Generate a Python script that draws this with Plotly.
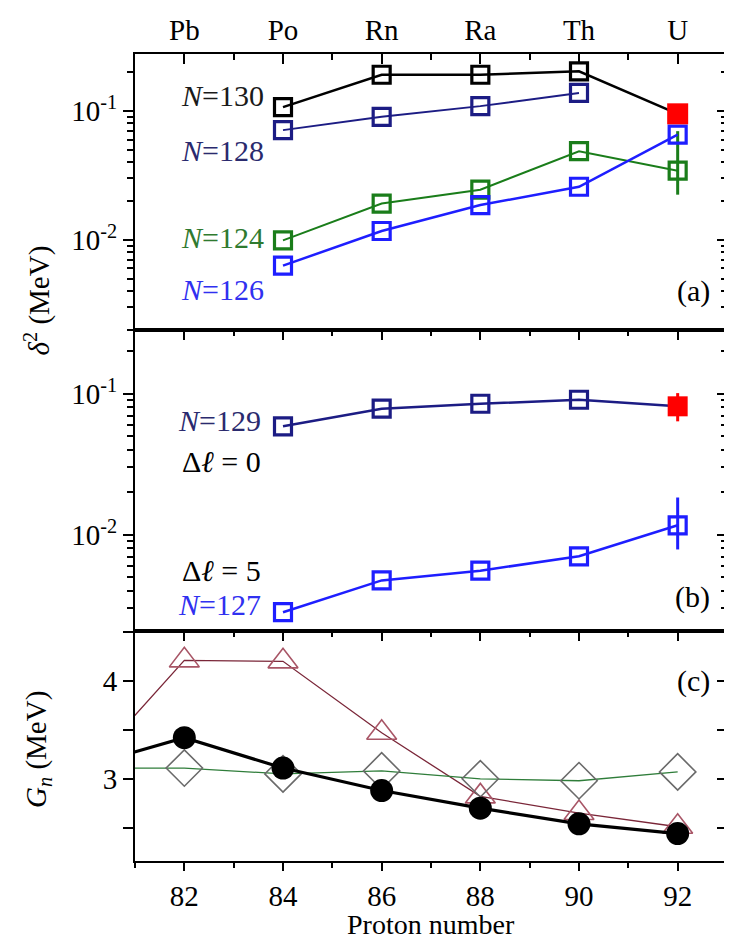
import math
import plotly.graph_objects as go

# ---------------- data ----------------
Z_ab = [84, 86, 88, 90, 92]
elements = ["Pb", "Po", "Rn", "Ra", "Th", "U"]
Z_elem = [82, 84, 86, 88, 90, 92]
log_ticks = [0.01, 0.1]
log_ticktext = ["10<sup>-2</sup>", "10<sup>-1</sup>"]
Gn_ticks = [3, 4]

# panel (a)
d2_N130 = [0.107, 0.191, 0.191, 0.203, 0.095]   # last point = experiment (red)
d2_N128 = [0.071, 0.090, 0.109, 0.138]
d2_N124 = [0.0099, 0.0191, 0.0245, 0.0487, 0.0344]
d2_N124_errp = [0, 0, 0, 0, 0.0353]
d2_N124_errm = [0, 0, 0, 0, 0.0120]
d2_N126 = [0.0063, 0.0117, 0.0186, 0.0258, 0.0655]

# panel (b)
d2_N129 = [0.0587, 0.0783, 0.0849, 0.0906, 0.0814]  # last point = experiment (red)
d2_N129_errp = [0.0196]
d2_N129_errm = [0.0177]
d2_N127 = [0.00282, 0.00474, 0.00556, 0.00703, 0.01166]
d2_N127_errp = [0, 0, 0, 0, 0.0067]
d2_N127_errm = [0, 0, 0, 0, 0.0038]

# panel (c)
Z_c = [80, 82, 84, 86, 88, 90, 92]
Gn_circle = [3.13, 3.42, 3.11, 2.88, 2.70, 2.54, 2.44]
Gn_triangle = [3.09, 4.21, 4.20, 3.47, 2.82, 2.65, 2.51]
Gn_diamond = [3.11, 3.11, 3.05, 3.08, 3.00, 2.98, 3.07]

# ---------------- style ----------------
FONT = "Liberation Serif, Times New Roman, serif"
FS = 29
BLACK = "#000000"
NAVY = "#1c1c84"
GREEN = "#1a7d1a"
BLUE = "#1e1eff"
RED = "#ff0000"

fig = go.Figure()

def sq_trace(x, y, color, xa, ya, width=2.5, err=None):
    tr = go.Scatter(
        x=x, y=y, mode="lines+markers", xaxis=xa, yaxis=ya,
        line=dict(color=color, width=width),
        marker=dict(symbol="square-open", size=17, color=color,
                    line=dict(width=3.2, color=color)),
        showlegend=False, hoverinfo="skip")
    if err is not None:
        tr.error_y = dict(type="data", array=err[0], arrayminus=err[1],
                          color=color, thickness=3, width=0, visible=True)
    return tr

# panel (a): xaxis3 / yaxis3
fig.add_trace(go.Scatter(x=Z_ab, y=d2_N130, mode="lines", xaxis="x3", yaxis="y3",
                         line=dict(color=BLACK, width=2.5), showlegend=False, hoverinfo="skip"))
fig.add_trace(go.Scatter(x=Z_ab[:4], y=d2_N130[:4], mode="markers", xaxis="x3", yaxis="y3",
                         marker=dict(symbol="square-open", size=17, color=BLACK, line=dict(width=3.2, color=BLACK)),
                         showlegend=False, hoverinfo="skip"))
fig.add_trace(sq_trace(Z_ab[:4], d2_N128, NAVY, "x3", "y3", width=2))
fig.add_trace(sq_trace(Z_ab, d2_N124, GREEN, "x3", "y3", width=2,
                       err=(d2_N124_errp, d2_N124_errm)))
fig.add_trace(sq_trace(Z_ab, d2_N126, BLUE, "x3", "y3", width=2.5))
fig.add_trace(go.Scatter(x=Z_ab[4:], y=d2_N130[4:], mode="markers", xaxis="x3", yaxis="y3",
                         marker=dict(symbol="square", size=21, color=RED, line=dict(width=0)),
                         showlegend=False, hoverinfo="skip"))

# panel (b): xaxis2 / yaxis2
fig.add_trace(go.Scatter(x=Z_ab, y=d2_N129, mode="lines", xaxis="x2", yaxis="y2",
                         line=dict(color=NAVY, width=2.5), showlegend=False, hoverinfo="skip"))
fig.add_trace(go.Scatter(x=Z_ab[:4], y=d2_N129[:4], mode="markers", xaxis="x2", yaxis="y2",
                         marker=dict(symbol="square-open", size=17, color=NAVY, line=dict(width=3.2, color=NAVY)),
                         showlegend=False, hoverinfo="skip"))
fig.add_trace(go.Scatter(x=Z_ab[4:], y=d2_N129[4:], mode="markers", xaxis="x2", yaxis="y2",
                         marker=dict(symbol="square", size=20, color=RED, line=dict(width=0)),
                         error_y=dict(type="data", array=d2_N129_errp, arrayminus=d2_N129_errm,
                                      color=RED, thickness=3, width=0),
                         showlegend=False, hoverinfo="skip"))
fig.add_trace(sq_trace(Z_ab, d2_N127, BLUE, "x2", "y2", width=2.5,
                       err=(d2_N127_errp, d2_N127_errm)))

# panel (c): xaxis / yaxis
fig.add_trace(go.Scatter(x=Z_c, y=Gn_triangle, mode="lines+markers",
                         line=dict(color="#7a2638", width=1.3),
                         marker=dict(symbol="triangle-up-open", size=26, color="#a85566",
                                     line=dict(width=1.6, color="#a85566")),
                         showlegend=False, hoverinfo="skip"))
fig.add_trace(go.Scatter(x=Z_c, y=Gn_diamond, mode="lines+markers",
                         line=dict(color="#2f7d3a", width=1.3),
                         marker=dict(symbol="diamond-open", size=28, color="#6a6a6a",
                                     line=dict(width=1.6, color="#6a6a6a")),
                         showlegend=False, hoverinfo="skip"))
fig.add_trace(go.Scatter(x=Z_c, y=Gn_circle, mode="lines+markers",
                         line=dict(color=BLACK, width=3.2),
                         marker=dict(symbol="circle", size=23, color=BLACK),
                         showlegend=False, hoverinfo="skip"))

# dummy traces for overlay axes (extra tick sets)
for xa, ya in [("x4", "y"), ("x", "y4"), ("x2", "y5"), ("x3", "y6")]:
    fig.add_trace(go.Scatter(x=[None], y=[None], xaxis=xa, yaxis=ya, mode="markers",
                             showlegend=False, hoverinfo="skip"))

XR = [81, 93]
dom_c = [0, 0.285]
dom_b = [0.285, 0.658]
dom_a = [0.658, 1.0]
tickfont = dict(family=FONT, size=FS, color=BLACK)

def xminor(side, ln=6):
    return dict(dtick=1, ticklen=ln, tickwidth=2, tickcolor=BLACK, ticks=side)

def xaxis_common(**kw):
    d = dict(range=XR, showline=True, linecolor=BLACK, linewidth=2,
             tickvals=Z_elem, ticklen=10, tickwidth=2, tickcolor=BLACK, automargin=False,
             showgrid=False, zeroline=False, tickfont=tickfont)
    d.update(kw)
    return d

minor_log = [m * 10 ** e for e in (-3, -2, -1) for m in (2, 3, 4, 5, 6, 7, 8, 9)]

def logy(rng, dom, side_ticks="outside", **kw):
    d = dict(type="log", range=rng, domain=dom, showline=True, linecolor=BLACK, linewidth=2,
             tickvals=log_ticks, ticktext=log_ticktext, ticklen=10, tickwidth=2, tickcolor=BLACK,
             minor=dict(tickvals=minor_log, ticklen=6, tickwidth=2, tickcolor=BLACK, ticks=side_ticks),
             ticks=side_ticks, mirror="allticks", showgrid=False, zeroline=False, tickfont=tickfont,
             automargin=False)
    d.update(kw)
    return d

fig.update_layout(
    width=732, height=941,
    margin=dict(l=127, r=13, t=46, b=88),
    paper_bgcolor="white", plot_bgcolor="white",
    font=dict(family=FONT, size=FS, color=BLACK),
    # bottom panel (c)
    xaxis=xaxis_common(anchor="y", ticks="outside", mirror=True, ticklen=8,
                       minor=xminor("outside", 5)),
    xaxis4=xaxis_common(anchor="y", overlaying="x", side="top", ticks="inside",
                        showticklabels=False, minor=xminor("inside")),
    # panel (b)
    xaxis2=xaxis_common(anchor="y2", side="top", ticks="inside", showticklabels=False,
                        mirror=True, minor=xminor("inside")),
    # panel (a)
    xaxis3=xaxis_common(anchor="y3", side="top", ticks="inside", mirror=True,
                        ticktext=elements, minor=xminor("inside")),
    yaxis=dict(range=[2.16, 4.51], domain=dom_c, anchor="x", tickvals=Gn_ticks,
               showline=True, linecolor=BLACK, linewidth=2, ticks="outside", mirror="allticks",
               ticklen=10, tickwidth=2, tickcolor=BLACK, automargin=False,
               minor=dict(dtick=0.5, ticklen=10, tickwidth=2, tickcolor=BLACK, ticks="outside"),
               showgrid=False, zeroline=False, tickfont=tickfont),
    yaxis4=dict(range=[2.16, 4.51], domain=dom_c, anchor="x", overlaying="y", side="right",
                tickvals=Gn_ticks, ticks="inside", ticklen=10, tickwidth=2, tickcolor=BLACK,
                minor=dict(dtick=0.5, ticklen=10, tickwidth=2, tickcolor=BLACK, ticks="inside"),
                showticklabels=False, showgrid=False, zeroline=False, showline=False, automargin=False),
    yaxis2=logy([-2.683, -0.548], dom_b, anchor="x2"),
    yaxis5=logy([-2.683, -0.548], dom_b, side_ticks="inside", anchor="x2", overlaying="y2",
                side="right", mirror=False, showline=False, showticklabels=False),
    yaxis3=logy([-2.70, -0.558], dom_a, anchor="x3"),
    yaxis6=logy([-2.70, -0.558], dom_a, side_ticks="inside", anchor="x3", overlaying="y3",
                side="right", mirror=False, showline=False, showticklabels=False),
)

def ann(text, x, y, xref, yref, color=BLACK, xanchor="right", size=30):
    fig.add_annotation(text=text, x=x, y=y, xref=xref, yref=yref, showarrow=False,
                       xanchor=xanchor, yanchor="middle",
                       font=dict(family=FONT, size=size, color=color))

# panel (a) labels
ann("<i>N</i>=130", 83.65, math.log10(0.131), "x3", "y3", color="#1a1a1a")
ann("<i>N</i>=128", 83.65, math.log10(0.049), "x3", "y3", color="#2a2a6e")
ann("<i>N</i>=124", 83.65, math.log10(0.0105), "x3", "y3", color="#2f7a2f")
ann("<i>N</i>=126", 83.65, math.log10(0.0041), "x3", "y3", color="#3030f0")
ann("(a)", 92.7, math.log10(0.004), "x3", "y3")
# panel (b) labels
ann("<i>N</i>=129", 83.6, math.log10(0.0645), "x2", "y2", color="#2a2a6e")
ann("Δ<i>ℓ</i> = 0", 83.6, math.log10(0.033), "x2", "y2")
ann("Δ<i>ℓ</i> = 5", 83.6, math.log10(0.0056), "x2", "y2")
ann("<i>N</i>=127", 83.6, math.log10(0.0032), "x2", "y2", color="#3030f0")
ann("(b)", 92.7, math.log10(0.0036), "x2", "y2")
# panel (c) label
ann("(c)", 92.7, 4.0, "x", "y")

# axis titles
fig.add_annotation(text="<i>δ</i><sup>2</sup> (MeV)", x=-0.165, y=0.695, xref="paper", yref="paper",
                   showarrow=False, textangle=-90, xanchor="center", yanchor="middle",
                   font=dict(family=FONT, size=FS, color=BLACK))
fig.add_annotation(text="<i>G</i><sub><i>n</i></sub> (MeV)", x=-0.165, y=0.138, xref="paper", yref="paper",
                   showarrow=False, textangle=-90, xanchor="center", yanchor="middle",
                   font=dict(family=FONT, size=FS, color=BLACK))
fig.add_annotation(text="Proton number", x=0.5, y=-0.079, xref="paper", yref="paper",
                   showarrow=False, xanchor="center", yanchor="middle",
                   font=dict(family=FONT, size=28, color=BLACK))

fig.write_html("out.html")
